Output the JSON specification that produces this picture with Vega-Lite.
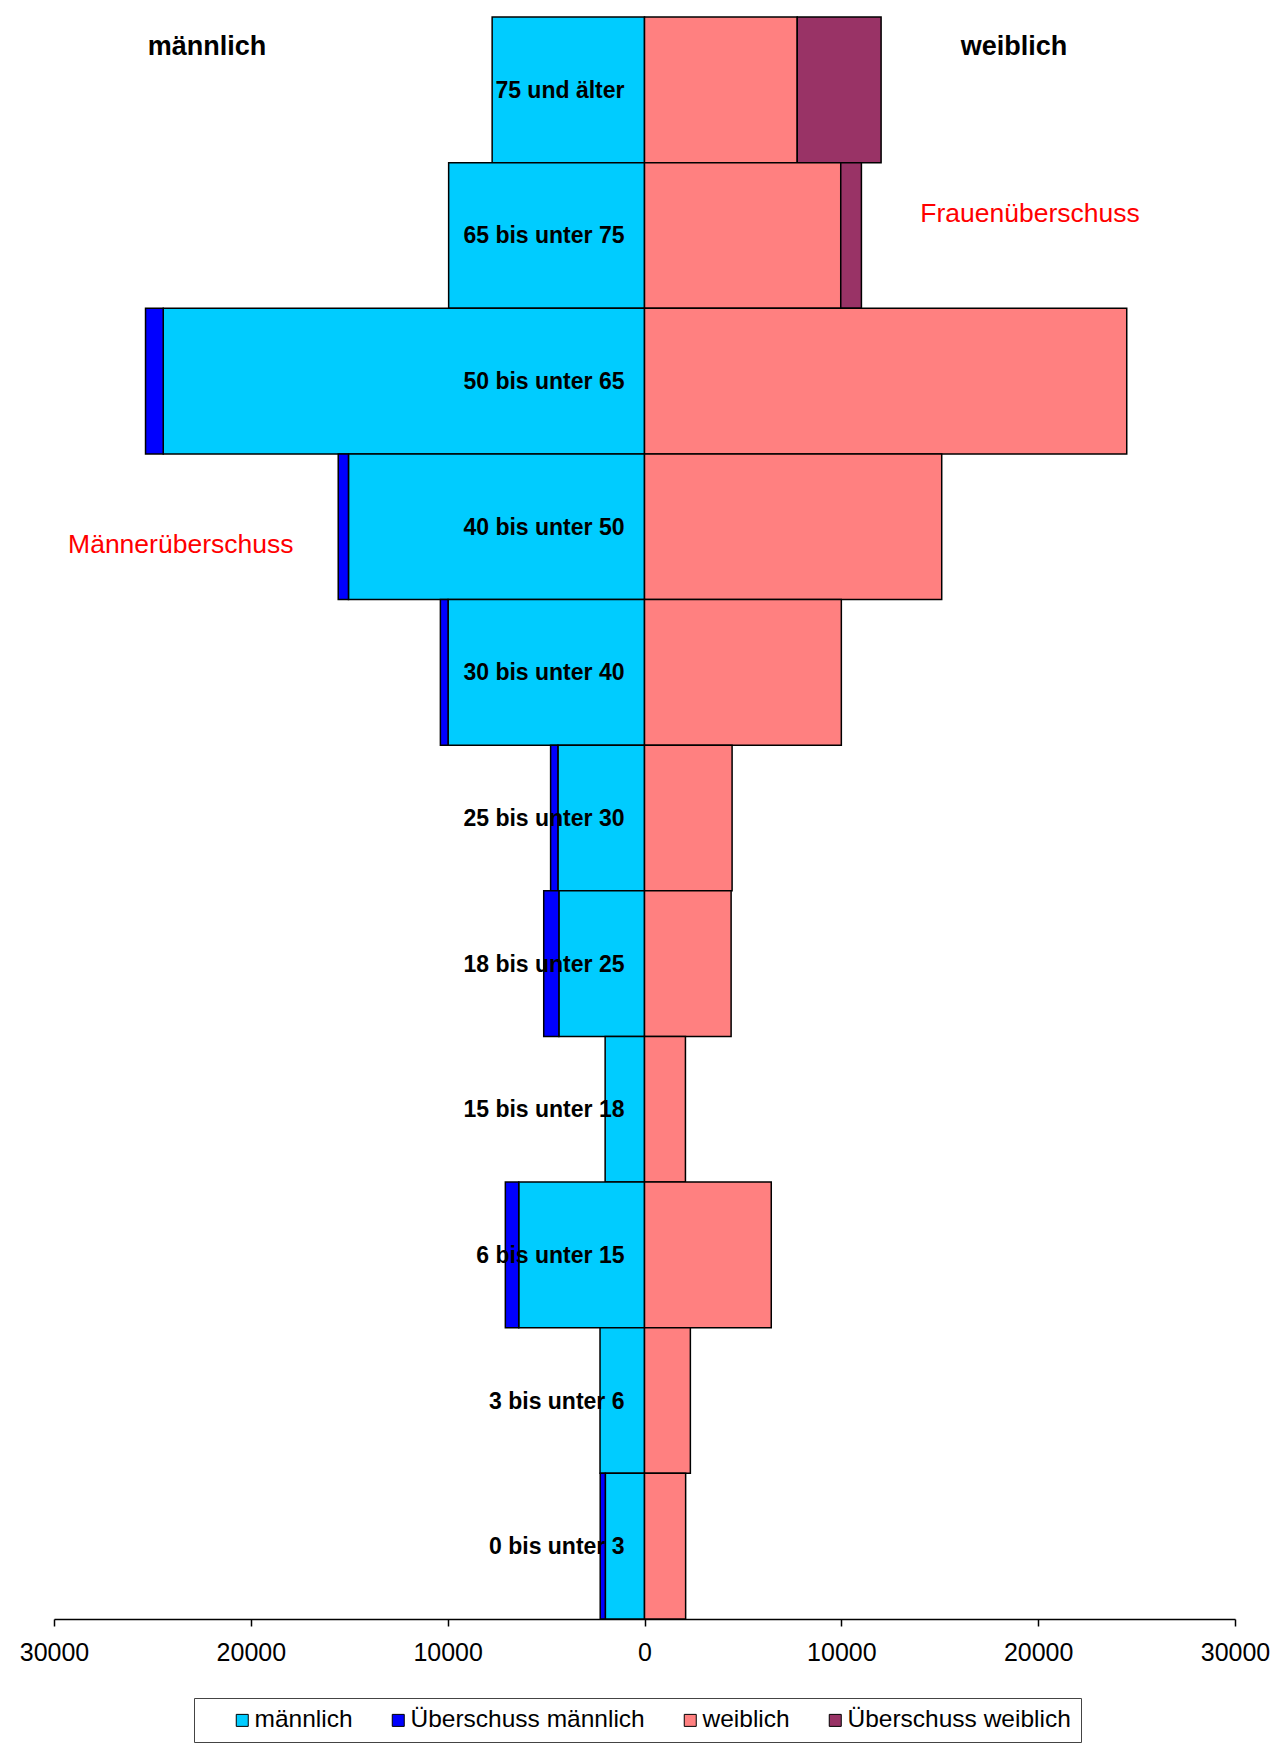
{
  "$schema": "https://vega.github.io/schema/vega-lite/v6.json",
  "width": 1181,
  "height": 1602,
  "autosize": "none",
  "padding": {"left": 54, "top": 17, "right": 52, "bottom": 128},
  "background": "white",
  "config": {
    "view": {"stroke": null},
    "font": "Liberation Sans",
    "text": {"font": "Liberation Sans", "color": "black"}
  },
  "data": {
    "values": [
      {"alter": "75 und älter", "kategorie": "männlich", "anzahl": -7740},
      {"alter": "75 und älter", "kategorie": "weiblich", "anzahl": 7760},
      {"alter": "75 und älter", "kategorie": "Überschuss weiblich", "anzahl": 4260},
      {"alter": "65 bis unter 75", "kategorie": "männlich", "anzahl": -9950},
      {"alter": "65 bis unter 75", "kategorie": "weiblich", "anzahl": 9970},
      {"alter": "65 bis unter 75", "kategorie": "Überschuss weiblich", "anzahl": 1050},
      {"alter": "50 bis unter 65", "kategorie": "männlich", "anzahl": -24450},
      {"alter": "50 bis unter 65", "kategorie": "Überschuss männlich", "anzahl": -900},
      {"alter": "50 bis unter 65", "kategorie": "weiblich", "anzahl": 24500},
      {"alter": "40 bis unter 50", "kategorie": "männlich", "anzahl": -15040},
      {"alter": "40 bis unter 50", "kategorie": "Überschuss männlich", "anzahl": -520},
      {"alter": "40 bis unter 50", "kategorie": "weiblich", "anzahl": 15100},
      {"alter": "30 bis unter 40", "kategorie": "männlich", "anzahl": -9980},
      {"alter": "30 bis unter 40", "kategorie": "Überschuss männlich", "anzahl": -390},
      {"alter": "30 bis unter 40", "kategorie": "weiblich", "anzahl": 10000},
      {"alter": "25 bis unter 30", "kategorie": "männlich", "anzahl": -4400},
      {"alter": "25 bis unter 30", "kategorie": "Überschuss männlich", "anzahl": -370},
      {"alter": "25 bis unter 30", "kategorie": "weiblich", "anzahl": 4450},
      {"alter": "18 bis unter 25", "kategorie": "männlich", "anzahl": -4350},
      {"alter": "18 bis unter 25", "kategorie": "Überschuss männlich", "anzahl": -770},
      {"alter": "18 bis unter 25", "kategorie": "weiblich", "anzahl": 4400},
      {"alter": "15 bis unter 18", "kategorie": "männlich", "anzahl": -2000},
      {"alter": "15 bis unter 18", "kategorie": "weiblich", "anzahl": 2080},
      {"alter": "6 bis unter 15", "kategorie": "männlich", "anzahl": -6390},
      {"alter": "6 bis unter 15", "kategorie": "Überschuss männlich", "anzahl": -680},
      {"alter": "6 bis unter 15", "kategorie": "weiblich", "anzahl": 6440},
      {"alter": "3 bis unter 6", "kategorie": "männlich", "anzahl": -2260},
      {"alter": "3 bis unter 6", "kategorie": "weiblich", "anzahl": 2330},
      {"alter": "0 bis unter 3", "kategorie": "männlich", "anzahl": -1990},
      {"alter": "0 bis unter 3", "kategorie": "Überschuss männlich", "anzahl": -260},
      {"alter": "0 bis unter 3", "kategorie": "weiblich", "anzahl": 2090}
    ]
  },
  "layer": [
    {
      "mark": {"type": "bar", "stroke": "black", "strokeWidth": 1.5},
      "encoding": {
        "y": {
          "field": "alter",
          "type": "nominal",
          "sort": null,
          "scale": {
            "domain": ["75 und älter", "65 bis unter 75", "50 bis unter 65", "40 bis unter 50", "30 bis unter 40", "25 bis unter 30", "18 bis unter 25", "15 bis unter 18", "6 bis unter 15", "3 bis unter 6", "0 bis unter 3"],
            "paddingInner": 0,
            "paddingOuter": 0
          },
          "axis": null
        },
        "x": {
          "field": "anzahl",
          "type": "quantitative",
          "stack": "zero",
          "scale": {"domain": [-30000, 30000], "nice": false},
          "axis": {
            "title": null,
            "grid": false,
            "values": [-30000, -20000, -10000, 0, 10000, 20000, 30000],
            "labelExpr": "format(abs(datum.value), 'd')",
            "domainColor": "black",
            "domainWidth": 1.5,
            "tickColor": "black",
            "tickWidth": 1.5,
            "tickSize": 7,
            "labelFont": "Liberation Sans",
            "labelFontSize": 25,
            "labelColor": "black",
            "labelBaseline": "alphabetic",
            "labelPadding": 34,
            "labelFlush": false,
            "labelOverlap": false
          }
        },
        "color": {
          "field": "kategorie",
          "type": "nominal",
          "scale": {
            "domain": ["männlich", "Überschuss männlich", "weiblich", "Überschuss weiblich"],
            "range": ["#00CCFF", "#0000FF", "#FF8080", "#993366"]
          },
          "legend": {
            "title": null,
            "orient": "none",
            "legendX": 140,
            "legendY": 1681,
            "direction": "horizontal",
            "symbolType": "square",
            "symbolSize": 144,
            "symbolOffset": 26,
            "symbolStrokeColor": "black",
            "symbolStrokeWidth": 1,
            "symbolOpacity": 1,
            "labelFont": "Liberation Sans",
            "labelFontSize": 24.5,
            "labelColor": "black",
            "labelLimit": 400,
            "labelOffset": 0,
            "columnPadding": 7,
            "padding": 10,
            "strokeColor": "#444",
            "fillColor": "white"
          }
        },
        "order": {"field": "kategorie", "sort": "ascending"}
      }
    },
    {
      "transform": [{"filter": "datum.kategorie === 'männlich'"}],
      "mark": {"type": "text", "align": "right", "baseline": "alphabetic", "dx": -20, "dy": 8, "fontSize": 23, "fontWeight": "bold"},
      "encoding": {
        "y": {"field": "alter", "type": "nominal", "sort": null},
        "x": {"datum": 0},
        "text": {"field": "alter"}
      }
    },
    {
      "data": {"values": [{"beschriftung": "männlich", "position": -22230, "alter": "75 und älter"}]},
      "mark": {"type": "text", "align": "center", "baseline": "alphabetic", "dy": -34.5, "fontSize": 27, "fontWeight": "bold"},
      "encoding": {
        "y": {"field": "alter", "type": "nominal", "sort": null},
        "x": {"field": "position", "type": "quantitative"},
        "text": {"field": "beschriftung"}
      }
    },
    {
      "data": {"values": [{"beschriftung": "weiblich", "position": 18770, "alter": "75 und älter"}]},
      "mark": {"type": "text", "align": "center", "baseline": "alphabetic", "dy": -34.5, "fontSize": 27, "fontWeight": "bold"},
      "encoding": {
        "y": {"field": "alter", "type": "nominal", "sort": null},
        "x": {"field": "position", "type": "quantitative"},
        "text": {"field": "beschriftung"}
      }
    },
    {
      "data": {"values": [{"beschriftung": "Frauenüberschuss", "position": 19590, "alter": "65 bis unter 75"}]},
      "mark": {"type": "text", "align": "center", "baseline": "alphabetic", "dy": -13, "fontSize": 26.5, "color": "#FF0000"},
      "encoding": {
        "y": {"field": "alter", "type": "nominal", "sort": null},
        "x": {"field": "position", "type": "quantitative"},
        "text": {"field": "beschriftung"}
      }
    },
    {
      "data": {"values": [{"beschriftung": "Männerüberschuss", "position": -23560, "alter": "40 bis unter 50"}]},
      "mark": {"type": "text", "align": "center", "baseline": "alphabetic", "dy": 26, "fontSize": 26.5, "color": "#FF0000"},
      "encoding": {
        "y": {"field": "alter", "type": "nominal", "sort": null},
        "x": {"field": "position", "type": "quantitative"},
        "text": {"field": "beschriftung"}
      }
    }
  ]
}
